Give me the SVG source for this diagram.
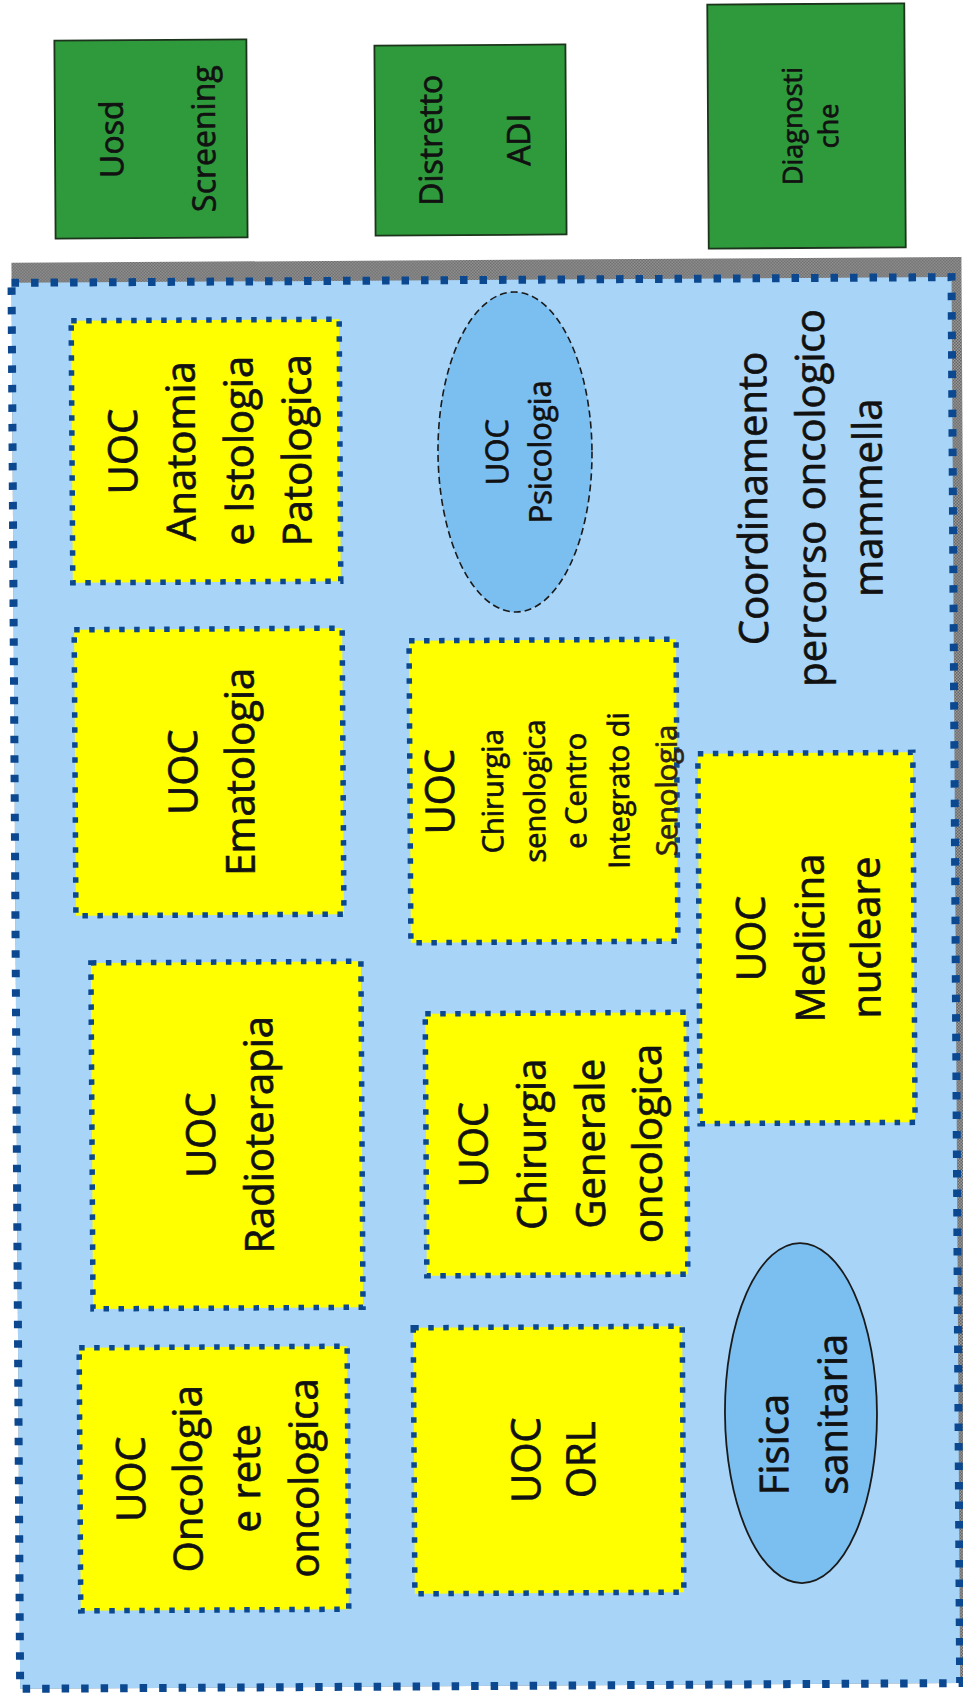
<svg xmlns="http://www.w3.org/2000/svg" width="963" height="1693" viewBox="0 0 963 1693">
  <defs>
    <!-- fine grey grain used for the frame behind the container -->
    <pattern id="grain" width="3" height="3" patternUnits="userSpaceOnUse">
      <rect width="3" height="3" fill="#a2a2a2"/>
      <rect width="1.5" height="1.5" fill="#5e5e5e"/>
      <rect x="1.5" y="1.5" width="1.5" height="1.5" fill="#5e5e5e"/>
    </pattern>
    <style>
      .green{fill:#2f9a3b;stroke:#1c331c;stroke-width:1.8}
      .unit{fill:#ffff00;stroke:#0c4890;stroke-width:5.5;stroke-dasharray:5.5 9.5}
      .frame{fill:#a8d4f7;stroke:#0c4890;stroke-width:8;stroke-dasharray:7.5 12}
      .oval{fill:#7bbff0;stroke:#1a1a1a;stroke-width:1.8}
      .dashed{stroke-dasharray:7 4;stroke-width:1.6}
      text{font-family:"Open Sans","Noto Sans","Liberation Sans",sans-serif;fill:#111;stroke:#111;stroke-width:0.7;text-anchor:middle}
      .f40{font-size:40px}
      .f32{font-size:32px}
      .f31{font-size:31px}
      .f29{font-size:29px}
      .f27{font-size:27px}
    </style>
  </defs>

  <rect width="963" height="1693" fill="#ffffff"/>

  <g transform="rotate(-0.35 481 846)">
    <!-- external units -->
    <g id="uosd-screening">
      <rect class="green" x="59.3" y="38" width="192" height="198"/>
      <text class="f32" transform="translate(155.3 137) rotate(-90)"><tspan x="0" y="-28">Uosd</tspan><tspan x="0" y="64">Screening</tspan></text>
    </g>
    <g id="distretto-adi">
      <rect class="green" x="379.3" y="45" width="191" height="190"/>
      <text class="f32" transform="translate(474.8 140) rotate(-90)"><tspan x="0" y="-28.5">Distretto</tspan><tspan x="0" y="59.5">ADI</tspan></text>
    </g>
    <g id="diagnostiche">
      <rect class="green" x="712.4" y="6" width="197" height="244"/>
      <text class="f27" transform="translate(810.9 128) rotate(-90)"><tspan x="0" y="-4.5">Diagnosti</tspan><tspan x="0" y="31.5">che</tspan></text>
    </g>

    <!-- coordination container -->
    <g id="coordinamento">
      <rect x="15" y="260" width="950" height="1426" fill="url(#grain)"/>
      <rect class="frame" x="15" y="280" width="940" height="1406"/>
      <text class="f40" transform="translate(827.1 500.1) rotate(-90)"><tspan x="0" y="-58">Coordinamento</tspan><tspan x="0" y="0">percorso oncologico</tspan><tspan x="0" y="57">mammella</tspan></text>
    </g>

    <g id="anatomia">
      <rect class="unit" x="74.4" y="318.3" width="268" height="262"/>
      <text class="f40" transform="translate(208.4 449.3) rotate(-90)"><tspan x="0" y="-69">UOC</tspan><tspan x="0" y="-11">Anatomia</tspan><tspan x="0" y="47">e Istologia</tspan><tspan x="0" y="105">Patologica</tspan></text>
    </g>
    <g id="ematologia">
      <rect class="unit" x="75.5" y="627.3" width="268" height="286"/>
      <text class="f40" transform="translate(209.5 770.3) rotate(-90)"><tspan x="0" y="-12">UOC</tspan><tspan x="0" y="45">Ematologia</tspan></text>
    </g>
    <g id="radioterapia">
      <rect class="unit" x="90.2" y="960.5" width="270" height="346"/>
      <text class="f40" transform="translate(225.2 1133.5) rotate(-90)"><tspan x="0" y="-12">UOC</tspan><tspan x="0" y="46">Radioterapia</tspan></text>
    </g>
    <g id="oncologia">
      <rect class="unit" x="76.1" y="1345.4" width="268" height="263"/>
      <text class="f40" transform="translate(210.1 1476.9) rotate(-90)"><tspan x="0" y="-69">UOC</tspan><tspan x="0" y="-12">Oncologia</tspan><tspan x="0" y="46">e rete</tspan><tspan x="0" y="104">oncologica</tspan></text>
    </g>

    <g id="psicologia">
      <ellipse class="oval dashed" cx="517.4" cy="452.2" rx="77" ry="160"/>
      <text class="f31" transform="translate(517.4 452.2) rotate(-90)"><tspan x="0" y="-7">UOC</tspan><tspan x="0" y="36">Psicologia</tspan></text>
    </g>
    <g id="chirurgia-senologica">
      <rect class="unit" x="410.3" y="640.4" width="267" height="302"/>
      <text transform="translate(543.8 791.4) rotate(-90)"><tspan class="f40" x="0" y="-89.5">UOC</tspan><tspan class="f29" x="0" y="-40.5">Chirurgia</tspan><tspan class="f29" x="0" y="1.5">senologica</tspan><tspan class="f29" x="0" y="42.5">e Centro</tspan><tspan class="f29" x="0" y="85.5">Integrato di</tspan><tspan class="f29" x="0" y="133.5" fill="#2e2216" stroke="#2e2216">Senologia</tspan></text>
    </g>
    <g id="chirurgia-generale">
      <rect class="unit" x="424.2" y="1013.5" width="261" height="262"/>
      <text class="f40" transform="translate(554.7 1144.5) rotate(-90)"><tspan x="0" y="-69">UOC</tspan><tspan x="0" y="-11">Chirurgia</tspan><tspan x="0" y="48">Generale</tspan><tspan x="0" y="105">oncologica</tspan></text>
    </g>
    <g id="orl">
      <rect class="unit" x="410.3" y="1327.4" width="269" height="266"/>
      <text class="f40" transform="translate(544.8 1460.4) rotate(-90)"><tspan x="0" y="-8.5">UOC</tspan><tspan x="0" y="46.5">ORL</tspan></text>
    </g>
    <g id="medicina-nucleare">
      <rect class="unit" x="698.4" y="755" width="215" height="370"/>
      <text class="f40" transform="translate(805.9 940) rotate(-90)"><tspan x="0" y="-41.5">UOC</tspan><tspan x="0" y="17.5">Medicina</tspan><tspan x="0" y="73.5">nucleare</tspan></text>
    </g>
    <g id="fisica-sanitaria">
      <ellipse class="oval" cx="797.5" cy="1415" rx="76" ry="170"/>
      <text class="f40" style="text-anchor:start" transform="translate(797.5 1415) rotate(-90)"><tspan x="-82" y="-13">Fisica</tspan><tspan x="-82" y="46">sanitaria</tspan></text>
    </g>
  </g>
</svg>
